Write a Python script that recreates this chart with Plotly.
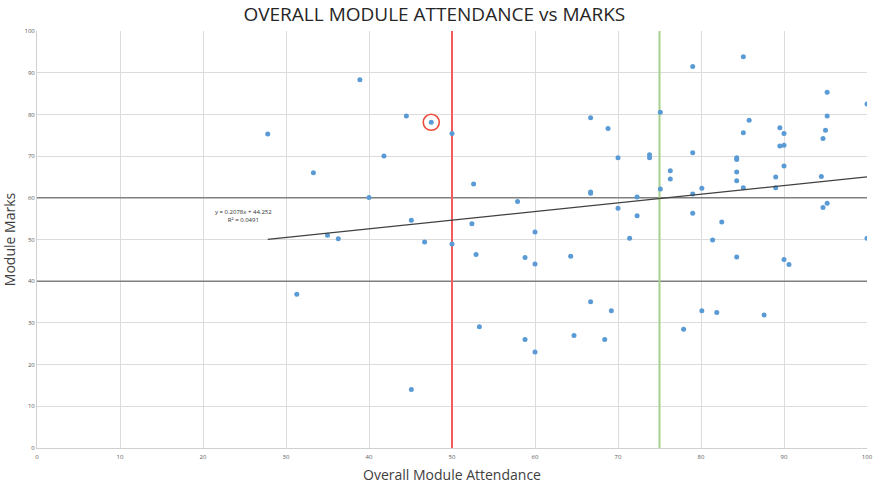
import plotly.graph_objects as go

# Overall module attendance (%) and module mark for each student
attendance = [27.8, 31.3, 33.3, 35.0, 36.3, 38.9, 40.0, 41.8, 44.5, 45.1,
              45.1, 46.7, 47.5, 50.0, 50.0, 52.4, 52.6, 52.9, 53.3, 57.9,
              58.8, 58.8, 60.0, 60.0, 60.0, 64.3, 64.7, 66.7, 66.7, 66.7,
              66.7, 68.4, 68.8, 69.2, 70.0, 70.0, 71.4, 72.3, 72.3, 73.8,
              73.8, 75.1, 75.1, 76.3, 76.3, 77.9, 79.0, 79.0, 79.0, 79.0,
              80.1, 80.1, 81.4, 81.9, 82.5, 84.3, 84.3, 84.3, 84.3, 84.3,
              85.1, 85.1, 85.1, 85.8, 87.6, 89.0, 89.0, 89.5, 89.5, 90.0,
              90.0, 90.0, 90.0, 90.6, 94.5, 94.7, 94.7, 95.0, 95.2, 95.2,
              95.2, 100.0, 100.0]
marks = [75.3, 36.9, 66.0, 51.0, 50.2, 88.3, 60.1, 70.0, 79.6, 54.6,
         14.0, 49.4, 78.1, 75.4, 48.9, 53.8, 63.3, 46.4, 29.1, 59.1,
         45.7, 26.0, 51.8, 44.1, 23.0, 46.0, 27.0, 79.2, 61.4, 61.1,
         35.1, 26.0, 76.6, 32.9, 69.6, 57.5, 50.3, 60.2, 55.7, 70.3,
         69.6, 80.5, 62.1, 66.5, 64.5, 28.5, 91.5, 70.8, 60.9, 56.3,
         62.3, 32.9, 49.9, 32.5, 54.2, 69.6, 69.2, 66.2, 64.1, 45.8,
         93.8, 75.6, 62.4, 78.6, 31.9, 65.0, 62.4, 76.8, 72.4, 75.4,
         72.6, 67.6, 45.2, 44.0, 65.1, 74.2, 57.7, 76.2, 85.3, 79.6,
         58.7, 82.5, 50.3]

# Linear trendline reported on the chart
slope = 0.2078
intercept = 44.252
r_squared = 0.0491

# Highlighted student
highlight_x = [47.5]
highlight_y = [78.1]

# Reference thresholds
mark_thresholds = [40, 60]
attendance_thresholds = [(50, "#f25c5c"), (75, "#a8d08d")]

FONT = "Open Sans"

fig = go.Figure()

trend_x = [min(attendance), max(attendance)]
trend_y = [slope * v + intercept for v in trend_x]

fig.add_trace(go.Scatter(
    x=attendance, y=marks, mode="markers",
    marker=dict(color="#5b9bd5", size=5),
    showlegend=False, hoverinfo="x+y"))

fig.add_trace(go.Scatter(
    x=trend_x, y=trend_y, mode="lines",
    line=dict(color="#404040", width=1.3),
    showlegend=False, hoverinfo="skip"))

fig.add_trace(go.Scatter(
    x=highlight_x, y=highlight_y, mode="markers",
    marker=dict(symbol="circle-open", size=16, color="#ee4b3b",
                line=dict(width=1.6, color="#ee4b3b")),
    showlegend=False, hoverinfo="skip"))

# Threshold lines sit above the grid but beneath the data markers
for m in mark_thresholds:
    fig.add_shape(type="line", xref="x", yref="y", x0=0, x1=100, y0=m, y1=m,
                  line=dict(color="#7f7f7f", width=1.6), layer="between")

for a, col in attendance_thresholds:
    fig.add_shape(type="line", xref="x", yref="y", x0=a, x1=a, y0=0, y1=100,
                  line=dict(color=col, width=2), layer="between")

fig.add_annotation(
    x=24.9, y=55.7, xref="x", yref="y", showarrow=False,
    text=f"y = {slope}x + {intercept}<br>R² = {r_squared}",
    font=dict(family=FONT, size=6, color="#303030"), align="center")

fig.update_layout(
    width=874, height=484,
    margin=dict(l=37, r=7, t=31, b=36, autoexpand=False),
    paper_bgcolor="white", plot_bgcolor="white",
    font=dict(family=FONT),
    title=dict(text="OVERALL MODULE ATTENDANCE vs MARKS",
               x=0.497, xanchor="center", y=0.971, yanchor="middle",
               font=dict(family=FONT, size=19, color="#262626")),
)

axis_common = dict(
    range=[0, 100], dtick=10, showgrid=True, gridcolor="#dcdcdc", gridwidth=1,
    zeroline=False, showline=True, linecolor="#d0d0d0", linewidth=1,
    tickfont=dict(family=FONT, size=6, color="#595959"), ticks="",
    fixedrange=True, automargin=False,
)
fig.update_xaxes(**axis_common, ticklabelstandoff=3,
                 title=dict(text="Overall Module Attendance", standoff=11,
                            font=dict(family=FONT, size=14, color="#404040")))
fig.update_yaxes(**axis_common,
                 title=dict(text="Module Marks", standoff=6,
                            font=dict(family=FONT, size=14, color="#404040")))

fig.write_html("out.html")
